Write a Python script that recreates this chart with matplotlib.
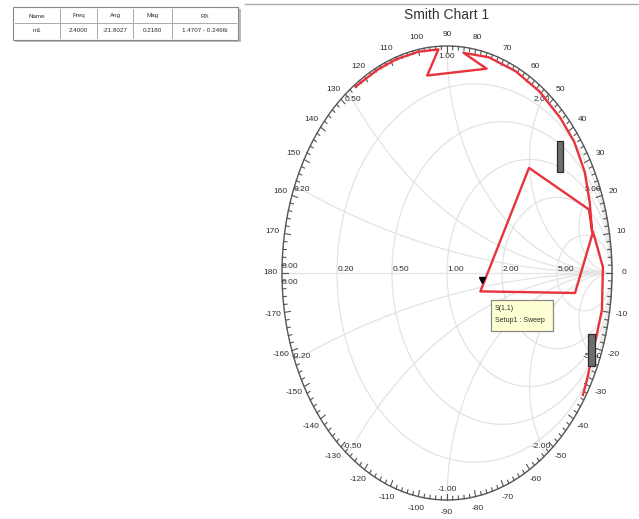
import numpy as np
import matplotlib
matplotlib.use("Agg")
import matplotlib.pyplot as plt
from matplotlib.patches import Rectangle, Ellipse

plt.rcParams['font.family'] = ['Liberation Sans', 'DejaVu Sans']

W, H = 639, 519

# S(1,1) sweep, reflection coefficient (real, imag)
trace_re = [-0.554, -0.418, -0.306, -0.172, -0.052, -0.12, 0.24, 0.10, 0.254,
            0.414, 0.56, 0.685, 0.77, 0.835, 0.865, 0.88, 0.86, 0.497,
            0.2024, 0.776, 0.885, 0.945, 0.939, 0.897, 0.848, 0.824]
trace_im = [0.821, 0.897, 0.942, 0.975, 0.985, 0.87, 0.90, 0.97, 0.95,
            0.89, 0.80, 0.685, 0.58, 0.445, 0.31, 0.18, 0.28, 0.463,
            -0.081, -0.088, 0.181, 0.026, -0.163, -0.308, -0.471, -0.537]

# marker m1
m1_name = "m1"
m1_freq = "2.4000"
m1_ang = -21.8027
m1_mag = 0.2180
m1_rx = "1.4707 - 0.2466i"

grid_r = [0.2, 0.5, 1.0, 2.0, 5.0]
grid_x = [0.2, 0.5, 1.0, 2.0, 5.0]
r_labels = ["0.20", "0.50", "1.00", "2.00", "5.00"]

fig = plt.figure(figsize=(W / 100, H / 100), dpi=100)
ax = fig.add_axes([0, 0, 1, 1])
# pixel layout: unit circle spans x 282..612, y 46..500
sx, sy = 165.0, 227.0
xmin = -1 - 282 / sx
ymax = 1 + 46 / sy
ax.set_xlim(xmin, xmin + W / sx)
ax.set_ylim(ymax - H / sy, ymax)
ax.axis('off')


def px(x, y):
    return x / W, 1 - y / H


gc = '#e3e3e3'
tc = '#2e2e2e'
th = np.linspace(0, 2 * np.pi, 721)

# resistance circles
for r in grid_r:
    c, rad = r / (1 + r), 1 / (1 + r)
    ax.plot(c + rad * np.cos(th), rad * np.sin(th), color=gc, lw=0.9, zorder=1)

# reactance arcs, kept inside the unit circle
for x in grid_x:
    for s in (1, -1):
        xs = 1 + (1 / x) * np.cos(th)
        ys = s / x + (1 / x) * np.sin(th)
        inside = xs ** 2 + ys ** 2 <= 1.0001
        xs = np.where(inside, xs, np.nan)
        ys = np.where(inside, ys, np.nan)
        ax.plot(xs, ys, color=gc, lw=0.9, zorder=1)

ax.plot([-1, 1], [0, 0], color=gc, lw=0.9, zorder=1)

# outer ring with degree ticks
ax.add_patch(Ellipse((0, 0), 2, 2, fill=False, ec='#555555', lw=1.0, zorder=3))
for d in range(-180, 180, 2):
    a = np.radians(d)
    ln = 6 if d % 10 == 0 else 3.5
    ax.plot([np.cos(a), np.cos(a) - np.cos(a) * ln / sx],
            [np.sin(a), np.sin(a) - np.sin(a) * ln / sy],
            color='#555555', lw=0.8, zorder=3)

for d in range(-170, 190, 10):
    a = np.radians(d)
    ax.text(np.cos(a) * (1 + 12 / sx), np.sin(a) * (1 + 12 / sy), str(d),
            fontsize=6, color=tc, ha='center', va='center')

# resistance labels on the real axis
ax.text(-0.95, 0.03, "0.00", fontsize=6, color=tc, ha='center', va='center')
ax.text(-0.95, -0.04, "0.00", fontsize=6, color=tc, ha='center', va='center')
for r, lab in zip(grid_r, r_labels):
    g = (r - 1) / (r + 1)
    ax.text(g + 0.055, 0.015, lab, fontsize=6, color=tc, ha='center', va='center')

# reactance labels just inside the rim
for x, lab in zip(grid_x, r_labels):
    for s in (1, -1):
        a = np.pi - 2 * np.arctan(x)
        t = lab if s > 0 else "-" + lab
        ax.text(0.955 * np.cos(a), s * 0.955 * np.sin(a), t, fontsize=6,
                color=tc, ha='center', va='center', zorder=2)

# trace
ax.plot(trace_re, trace_im, color='#e8333c', lw=1.7, zorder=5)

m1_re = m1_mag * np.cos(np.radians(m1_ang))
m1_im = m1_mag * np.sin(np.radians(m1_ang))
ax.plot(m1_re + 0.01, m1_im + 0.05, marker='v', color='black', ms=4, zorder=6)

# marker boxes along the rim
for (x0, y0, x1, y1) in [(557, 141, 563, 172), (588, 334, 595, 366)]:
    ax.add_patch(Rectangle(px(x0, y1), (x1 - x0) / W, (y1 - y0) / H,
                           transform=ax.transAxes, fc='#6e6e6e', ec='#2a2a2a',
                           lw=0.9, zorder=7))

# marker info tooltip
ax.add_patch(Rectangle(px(491, 331), 62 / W, 31 / H, transform=ax.transAxes,
                       fc='#ffffd4', ec='#8a8a8a', lw=0.9, zorder=7))
ax.text(*px(495, 308), "S(1,1)", transform=ax.transAxes, fontsize=5,
        color=tc, va='center', zorder=8)
ax.text(*px(495, 321), "Setup1 : Sweep", transform=ax.transAxes, fontsize=5,
        color=tc, va='center', zorder=8)

# title
ax.text(*px(447, 15), "Smith Chart 1", transform=ax.transAxes, fontsize=10,
        color='#333333', ha='center', va='center')
ax.plot([245 / W, 1], [1 - 4 / H, 1 - 4 / H], transform=ax.transAxes,
        color='#aaaaaa', lw=1)

# marker table
cols = [13, 60, 97, 133, 172, 238]
heads = ["Name", "Freq", "Ang", "Mag", "RX"]
vals = [m1_name, m1_freq, "%.4f" % m1_ang, "%.4f" % m1_mag, m1_rx]
ax.add_patch(Rectangle(px(15, 42), 226 / W, 33 / H, transform=ax.transAxes,
                       fc='#bbbbbb', ec='none', zorder=1))
ax.add_patch(Rectangle(px(13, 40), 225 / W, 33 / H, transform=ax.transAxes,
                       fc='white', ec='#888888', lw=0.8, zorder=2))
for c in cols[1:-1]:
    ax.plot([c / W, c / W], [1 - 9 / H, 1 - 38 / H], transform=ax.transAxes,
            color='#aaaaaa', lw=0.7, zorder=3)
ax.plot([15 / W, 236 / W], [1 - 23 / H, 1 - 23 / H], transform=ax.transAxes,
        color='#aaaaaa', lw=0.7, zorder=3)
for i in range(5):
    xc = (cols[i] + cols[i + 1]) / 2
    ax.text(*px(xc, 16), heads[i], transform=ax.transAxes, fontsize=4.5,
            color=tc, ha='center', va='center', zorder=4)
    ax.text(*px(xc, 31), vals[i], transform=ax.transAxes, fontsize=4.5,
            color=tc, ha='center', va='center', zorder=4)

fig.savefig("out.png", dpi=100)
